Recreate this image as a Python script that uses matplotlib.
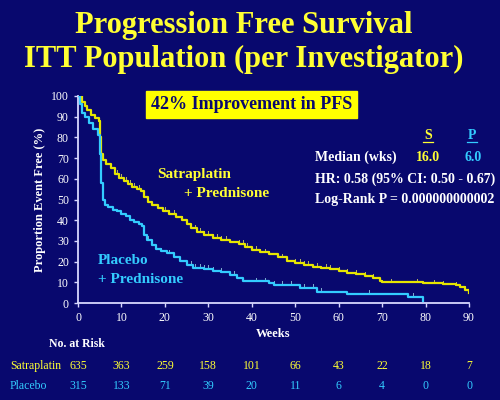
import numpy as np
from matplotlib import pyplot as plt

# Kaplan-Meier steps (week, % event free after the step)
sat_weeks = [0, 1, 1.5, 2, 3, 4, 4.8, 5.0, 5.3, 5.8, 6.5, 7.5, 8.5, 9.5, 10.5, 11.5, 12.5,
             13.5, 14.5, 15.2, 16, 17, 18.5, 19.5, 21, 22.5, 24, 25, 26, 27.5, 29, 31, 33,
             35, 37, 38.5, 40, 42, 44, 46, 48, 50, 52, 54, 56, 58, 60, 62, 64, 66, 68,
             69.5, 70, 79.5, 84, 87, 88, 89, 90]
sat_surv = [100, 97, 95, 93, 91, 89.5, 88, 80, 72, 69, 67, 65, 62.5, 60.5, 59, 57.5, 56,
            55, 54, 51, 49, 47.5, 46, 44.5, 43, 41.5, 40, 38, 36, 34.5, 33, 31.5, 30.5,
            29.5, 28.5, 27, 25.5, 24.5, 23.5, 22, 20.5, 19.5, 18.5, 17.5, 17, 16.5, 15.5,
            14.5, 14, 13, 12, 10.5, 10, 9.5, 9, 8.5, 7.5, 6.5, 5]

pla_weeks = [0, 0.5, 1, 1.5, 2.5, 3.5, 4.5, 5.0, 5.3, 5.7, 6.2, 7, 8, 9, 10, 11, 12, 13, 14,
             14.8, 15.2, 15.8, 17, 18, 19, 20.5, 22, 23.5, 25, 26.5, 29, 31, 33, 35, 36.5,
             38, 44, 45, 51, 55, 62, 76, 79.4]
pla_surv = [100, 96, 92, 90, 87, 84, 81, 72, 58, 50, 47.5, 46.5, 45, 44.5, 43, 42, 40, 39,
            38, 37, 33, 30.5, 28, 26, 25, 24, 22, 20.5, 18.5, 17, 16.5, 15.5, 15, 13.5, 12,
            10.5, 9.5, 8.7, 7.2, 5.3, 4.3, 3, 0.8]

sat_censor = [9, 10, 11, 12, 13, 14, 20, 21, 22, 24, 25, 26, 27, 28, 29, 30, 31, 32, 33, 34,
              37, 38, 39, 41, 42, 43, 44, 46, 47, 48, 50, 51, 52, 53, 55, 57, 58, 60, 62,
              64, 66, 68, 72, 78, 82, 84, 87, 89]
pla_censor = [16, 19, 21, 26, 27, 28, 29, 30, 31, 33, 36, 41, 43, 45, 47, 49, 52, 54, 56,
              67, 77]

risk_weeks = [0, 10, 20, 30, 40, 50, 60, 70, 80, 90]
sat_risk = [635, 363, 259, 158, 101, 66, 43, 22, 18, 7]
pla_risk = [315, 133, 71, 39, 20, 11, 6, 4, 0, 0]

NAVY = '#08086e'
YEL = '#ffff33'
YEL_LINE = '#e6e600'
CYAN = '#33ccff'

plt.rcParams['font.family'] = ['Liberation Serif', 'DejaVu Serif']

fig = plt.figure(figsize=(5, 4), dpi=100, facecolor=NAVY)
ax = fig.add_axes([0.156, 0.2425, 0.782, 0.5175])
ax.set_facecolor(NAVY)


def surv_at(weeks, surv, t):
    i = np.searchsorted(weeks, t, side='right') - 1
    return surv[max(i, 0)]


ax.step(sat_weeks, sat_surv, where='post', color=YEL_LINE, lw=1.6, zorder=3)
ax.step(pla_weeks, pla_surv, where='post', color=CYAN, lw=1.6, zorder=3)

for t in sat_censor:
    y = surv_at(sat_weeks, sat_surv, t)
    ax.plot([t, t], [y, y + 1.8], color='#b8b860', lw=0.7, zorder=2)
for t in pla_censor:
    y = surv_at(pla_weeks, pla_surv, t)
    ax.plot([t, t], [y, y + 1.8], color='#80b0d0', lw=0.7, zorder=2)

ax.set_xlim(0, 90)
ax.set_ylim(0, 100)
ax.set_xticks(range(0, 91, 10))
ax.set_yticks(range(0, 101, 10))
for s in ['top', 'right']:
    ax.spines[s].set_visible(False)
for s in ['left', 'bottom']:
    ax.spines[s].set_color('#d8d8ff')
    ax.spines[s].set_linewidth(1.3)
ax.tick_params(colors='#d8d8ff', labelcolor='white', labelsize=8.5, length=3, width=1)
ax.set_ylabel('Proportion Event Free (%)', color='white', fontsize=9, fontweight='bold',
              labelpad=4)
ax.set_xlabel('Weeks', color='white', fontsize=9, fontweight='bold', labelpad=3)

# curve labels
ax.text(18.3, 62, 'Satraplatin', color=YEL, fontsize=11, fontweight='bold', va='center')
ax.text(24.5, 53, '+ Prednisone', color=YEL, fontsize=11, fontweight='bold', va='center')
ax.text(4.5, 20.5, 'Placebo', color=CYAN, fontsize=11, fontweight='bold', va='center')
ax.text(4.5, 11.3, '+ Prednisone', color=CYAN, fontsize=11, fontweight='bold', va='center')

# titles
fig.text(0.487, 0.935, 'Progression Free Survival', color=YEL, fontsize=22,
         fontweight='bold', ha='center', va='center')
fig.text(0.487, 0.852, 'ITT Population (per Investigator)', color=YEL, fontsize=22,
         fontweight='bold', ha='center', va='center')

fig.text(0.503, 0.738, '42% Improvement in PFS', color=NAVY, fontsize=13,
         fontweight='bold', ha='center', va='center',
         bbox=dict(boxstyle='square,pad=0.28', fc='#ffff00', ec='#ffff00'))

# stats block
fig.text(0.856, 0.662, 'S', color=YEL, fontsize=10, fontweight='bold', ha='center',
         va='center')
fig.text(0.944, 0.662, 'P', color=CYAN, fontsize=10, fontweight='bold', ha='center',
         va='center')
fig.add_artist(plt.Line2D([0.846, 0.866], [0.645, 0.645], color=YEL, lw=0.9))
fig.add_artist(plt.Line2D([0.934, 0.954], [0.645, 0.645], color=CYAN, lw=0.9))
fig.text(0.63, 0.607, 'Median (wks)', color='white', fontsize=10, fontweight='bold',
         va='center')
fig.text(0.856, 0.607, '16.0', color=YEL, fontsize=10, fontweight='bold', ha='center',
         va='center')
fig.text(0.946, 0.607, '6.0', color=CYAN, fontsize=10, fontweight='bold', ha='center',
         va='center')
fig.text(0.63, 0.551, 'HR: 0.58 (95% CI: 0.50 - 0.67)', color='white', fontsize=10,
         fontweight='bold', va='center')
fig.text(0.63, 0.5, 'Log-Rank P = 0.000000000002', color='white', fontsize=10,
         fontweight='bold', va='center')

# number at risk table
fig.text(0.154, 0.14, 'No. at Risk', color='white', fontsize=8.5, fontweight='bold',
         ha='center', va='center')
fig.text(0.02, 0.085, 'Satraplatin', color=YEL, fontsize=8.5, va='center')
fig.text(0.02, 0.035, 'Placebo', color=CYAN, fontsize=8.5, va='center')
for w, s, p in zip(risk_weeks, sat_risk, pla_risk):
    ax.annotate(str(s), xy=(w, 0), xycoords=('data', 'axes fraction'),
                xytext=(0, -45.5), textcoords='offset points', ha='center', va='center',
                color=YEL, fontsize=8.5, annotation_clip=False)
    ax.annotate(str(p), xy=(w, 0), xycoords=('data', 'axes fraction'),
                xytext=(0, -60), textcoords='offset points', ha='center', va='center',
                color=CYAN, fontsize=8.5, annotation_clip=False)

fig.savefig('out.png', dpi=100, facecolor=NAVY)
